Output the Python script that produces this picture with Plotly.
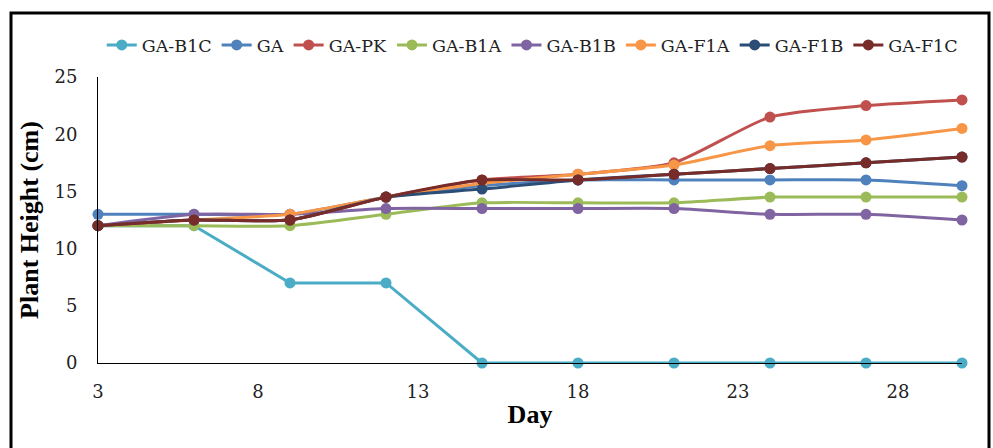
import plotly.graph_objects as go

days = [3, 6, 9, 12, 15, 18, 21, 24, 27, 30]
series_names = ["GA-B1C", "GA", "GA-PK", "GA-B1A", "GA-B1B", "GA-F1A", "GA-F1B", "GA-F1C"]
ga_b1c = [12, 12, 7, 7, 0, 0, 0, 0, 0, 0]
ga = [13, 13, 13, 14.5, 15.5, 16, 16, 16, 16, 15.5]
ga_pk = [12, 12.5, 12.5, 14.5, 16, 16.5, 17.5, 21.5, 22.5, 23]
ga_b1a = [12, 12, 12, 13, 14, 14, 14, 14.5, 14.5, 14.5]
ga_b1b = [12, 13, 13, 13.5, 13.5, 13.5, 13.5, 13, 13, 12.5]
ga_f1a = [12, 12.5, 13, 14.5, 15.7, 16.5, 17.3, 19, 19.5, 20.5]
ga_f1b = [12, 12.5, 12.5, 14.5, 15.2, 16, 16.5, 17, 17.5, 18]
ga_f1c = [12, 12.5, 12.5, 14.5, 16, 16, 16.5, 17, 17.5, 18]
values = [ga_b1c, ga, ga_pk, ga_b1a, ga_b1b, ga_f1a, ga_f1b, ga_f1c]
colors = ["#4BACC6", "#4F81BD", "#C0504D", "#9BBB59", "#8064A2", "#F79646", "#2C4D75", "#772C2A"]
x_ticks = [3, 8, 13, 18, 23, 28]
y_ticks = [0, 5, 10, 15, 20, 25]

TICKFONT = "DejaVu Serif"
TITLEFONT = "Liberation Serif"

fig = go.Figure()
for name, vals, col in zip(series_names, values, colors):
    shape = "linear" if name == "GA-B1C" else "spline"
    fig.add_trace(go.Scatter(
        x=days, y=vals, name=name, mode="lines+markers",
        line=dict(color=col, width=3, shape=shape, smoothing=0.6),
        marker=dict(color=col, size=11),
        cliponaxis=False,
    ))

fig.update_layout(
    width=993, height=448,
    margin=dict(l=98, r=31, t=77, b=85, autoexpand=False),
    paper_bgcolor="white", plot_bgcolor="white",
    font=dict(family=TICKFONT, size=17, color="#222"),
    showlegend=True,
    legend=dict(orientation="h", xref="container", yref="container",
                x=0.536, xanchor="center", y=1 - 45 / 448, yanchor="middle",
                font=dict(family=TICKFONT, size=17.5, color="#222"),
                itemwidth=30, tracegroupgap=0, bgcolor="rgba(0,0,0,0)"),
    xaxis=dict(range=[3, 30], tickvals=x_ticks, showgrid=False, zeroline=False,
               showline=True, linecolor="black", linewidth=1,
               ticks="outside", ticklen=12, tickcolor="rgba(0,0,0,0)",
               tickfont=dict(family=TICKFONT, size=18, color="#222"),
               title=dict(text="<b>Day</b>", font=dict(family=TITLEFONT, size=26, color="black"), standoff=4)),
    yaxis=dict(range=[0, 25], tickvals=y_ticks, showgrid=False, zeroline=False,
               showline=True, linecolor="black", linewidth=1,
               ticks="outside", ticklen=16, tickcolor="rgba(0,0,0,0)",
               tickfont=dict(family=TICKFONT, size=18, color="#222"),
               title=dict(text="<b>Plant Height (cm)</b>", font=dict(family=TITLEFONT, size=26, color="black"), standoff=8)),
    shapes=[dict(type="rect", xref="paper", yref="paper",
                 x0=(11 - 98) / 864, x1=(989 - 98) / 864,
                 y0=-0.4, y1=(363 - 13) / 286,
                 line=dict(color="black", width=3), fillcolor="rgba(0,0,0,0)", layer="below")],
)

fig.write_html("out.html")
